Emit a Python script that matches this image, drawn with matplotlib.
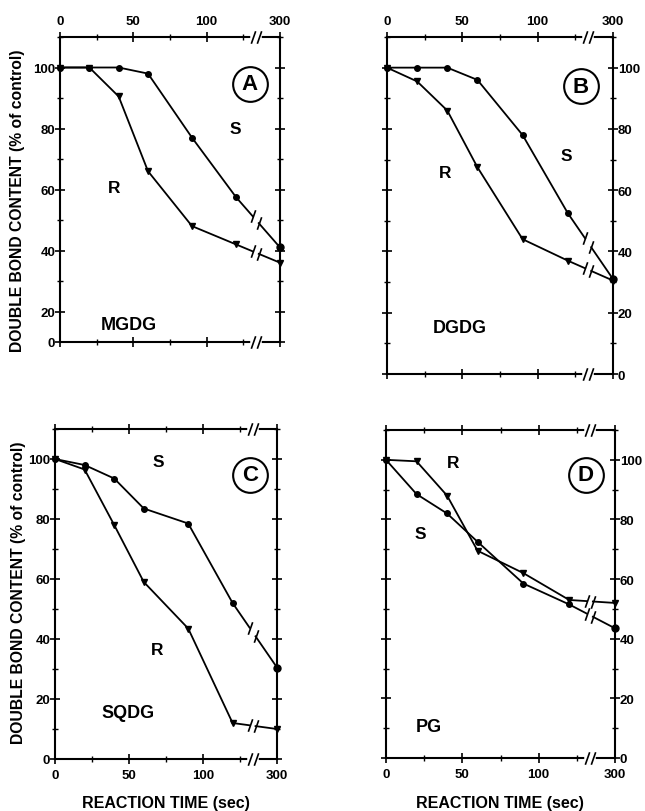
import numpy as np
import matplotlib
matplotlib.use("Agg")
import matplotlib.pyplot as plt
from matplotlib.path import Path

plt.rcParams['font.family'] = ['Liberation Sans', 'DejaVu Sans']

# reaction times (sec); the last one sits after the axis break
times = [0, 20, 40, 60, 90, 120, 300]

# double bond content, % of control
mgdg_s = [100, 100, 100, 98, 77, 57.5, 41]
mgdg_r = [100, 100, 90.5, 66, 48, 42, 36]
dgdg_s = [100, 100, 100, 96, 78, 52.5, 31]
dgdg_r = [100, 95.5, 86, 67.5, 44, 37, 30.5]
sqdg_s = [100, 98, 93.5, 83.5, 78.5, 52, 30.5]
sqdg_r = [100, 96.5, 78, 59, 43.5, 12, 10]
pg_s = [100, 88.5, 82, 72.5, 58.5, 51.5, 43.5]
pg_r = [100, 99.5, 88, 69.5, 62, 53, 52]

panel_letters = ['A', 'B', 'C', 'D']
lipids = ['MGDG', 'DGDG', 'SQDG', 'PG']
xtick_vals = [0, 50, 100, 300]
ytick_vals = [20, 40, 60, 80, 100]

B1, B2 = 131.5, 135.5   # break gap on the compressed time axis


def to_pos(t):
    # linear up to 120 s, then 300 s placed at 150
    t = np.asarray(t, dtype=float)
    return np.where(t <= 120, t, 150.0)


slash = Path([(-0.35, -1.0), (0.35, 1.0)], [Path.MOVETO, Path.LINETO])


def draw_series(ax, vals, marker, ms):
    pos = to_pos(times)
    v = np.asarray(vals, dtype=float)
    ax.plot(pos[:6], v[:6], color='k', lw=1.3, marker=marker, ms=ms, clip_on=False, zorder=4)
    y1 = np.interp(B1, pos[5:], v[5:])
    y2 = np.interp(B2, pos[5:], v[5:])
    ax.plot([pos[5], B1], [v[5], y1], color='k', lw=1.3, clip_on=False, zorder=4)
    ax.plot([B2, pos[6]], [y2, v[6]], color='k', lw=1.3, clip_on=False, zorder=4)
    ax.plot(pos[6:], v[6:], color='k', ls='none', marker=marker, ms=ms + 1, clip_on=False, zorder=4)
    ax.plot([B1, B2], [y1, y2], ls='none', marker=slash, ms=9, mew=1.2, color='k',
            clip_on=False, zorder=4)


W, H = 645, 812
fig = plt.figure(figsize=(W / 100, H / 100), dpi=100)
fig.patch.set_facecolor('white')


def rect(l, r, t, b):
    return [l / W, 1 - b / H, (r - l) / W, (b - t) / H]


panels = [
    dict(rect=rect(60, 280, 38, 343), s=mgdg_s, r=mgdg_r, ylo=10, side='left', xtop=True,
         spos=(0.795, 0.70), rpos=(0.247, 0.508), npos=(0.315, 0.058), cpos=(0.863, 0.846)),
    dict(rect=rect(387, 613, 38, 375), s=dgdg_s, r=dgdg_r, ylo=0, side='right', xtop=True,
         spos=(0.795, 0.648), rpos=(0.257, 0.599), npos=(0.323, 0.139), cpos=(0.857, 0.854)),
    dict(rect=rect(55, 277, 430, 760), s=sqdg_s, r=sqdg_r, ylo=0, side='left', xtop=False,
         spos=(0.465, 0.901), rpos=(0.458, 0.333), npos=(0.330, 0.1415), cpos=(0.878, 0.861)),
    dict(rect=rect(386, 615, 431, 759), s=pg_s, r=pg_r, ylo=0, side='right', xtop=False,
         spos=(0.148, 0.683), rpos=(0.294, 0.9015), npos=(0.185, 0.097), cpos=(0.873, 0.863)),
]

for i, p in enumerate(panels):
    ax = fig.add_axes(p['rect'])
    ax.set_xlim(0, 150)
    ax.set_ylim(p['ylo'], 110)
    for sp in ax.spines.values():
        sp.set_linewidth(1.5)

    # x ticks
    ax.set_xticks(to_pos(xtick_vals))
    ax.set_xticks([25, 75, 125], minor=True)
    ax.set_xticklabels([str(v) for v in xtick_vals], fontweight='bold')
    ax.tick_params(axis='x', which='both', direction='inout', top=True, bottom=True,
                   labeltop=p['xtop'], labelbottom=not p['xtop'], pad=4, labelsize=9.5)

    # y ticks (bottom tick is labelled 0 as in the original)
    yt = [p['ylo']] + list(ytick_vals)
    ylab = ['0'] + [str(v) for v in ytick_vals]
    ax.set_yticks(yt)
    ax.set_yticklabels(ylab, fontweight='bold')
    ax.set_yticks(np.arange(p['ylo'], 111, 10), minor=True)
    left = p['side'] == 'left'
    ax.tick_params(axis='y', which='both', direction='inout', left=True, right=True,
                   labelleft=left, labelright=not left, pad=0, labelsize=9.5)
    ax.tick_params(which='major', length=7, width=1.2)
    ax.tick_params(which='minor', length=4, width=1.0)

    # data
    draw_series(ax, p['s'], 'o', 4)
    draw_series(ax, p['r'], 'v', 4)

    # break marks on top and bottom spines
    for yy in (p['ylo'], 110):
        ax.plot([B1, B2], [yy, yy], color='white', lw=4, clip_on=False, zorder=5)
        ax.plot([B1, B2], [yy, yy], ls='none', marker=slash, ms=9, mew=1.2, color='k',
                clip_on=False, zorder=6)

    # labels inside panel
    ax.text(*p['spos'], 'S', transform=ax.transAxes, ha='center', va='center',
            fontsize=12.5, fontweight='bold')
    ax.text(*p['rpos'], 'R', transform=ax.transAxes, ha='center', va='center',
            fontsize=12.5, fontweight='bold')
    ax.text(*p['npos'], lipids[i], transform=ax.transAxes, ha='center', va='center',
            fontsize=13, fontweight='bold')
    ax.plot(*p['cpos'], transform=ax.transAxes, marker='o', ms=25, mfc='none', mec='k',
            mew=1.5, clip_on=False)
    ax.text(*p['cpos'], panel_letters[i], transform=ax.transAxes, ha='center', va='center',
            fontsize=16, fontweight='bold')

ylabel = 'DOUBLE BOND CONTENT (% of control)'
fig.text(18 / W, 1 - 201 / H, ylabel, rotation=90, ha='center', va='center',
         fontsize=11.3, fontweight='bold')
fig.text(19 / W, 1 - 593 / H, ylabel, rotation=90, ha='center', va='center',
         fontsize=11.3, fontweight='bold')
fig.text(166 / W, 1 - 804 / H, 'REACTION TIME (sec)', ha='center', va='center',
         fontsize=11.5, fontweight='bold')
fig.text(500 / W, 1 - 804 / H, 'REACTION TIME (sec)', ha='center', va='center',
         fontsize=11.5, fontweight='bold')

fig.savefig('out.png', dpi=100, facecolor='white')
